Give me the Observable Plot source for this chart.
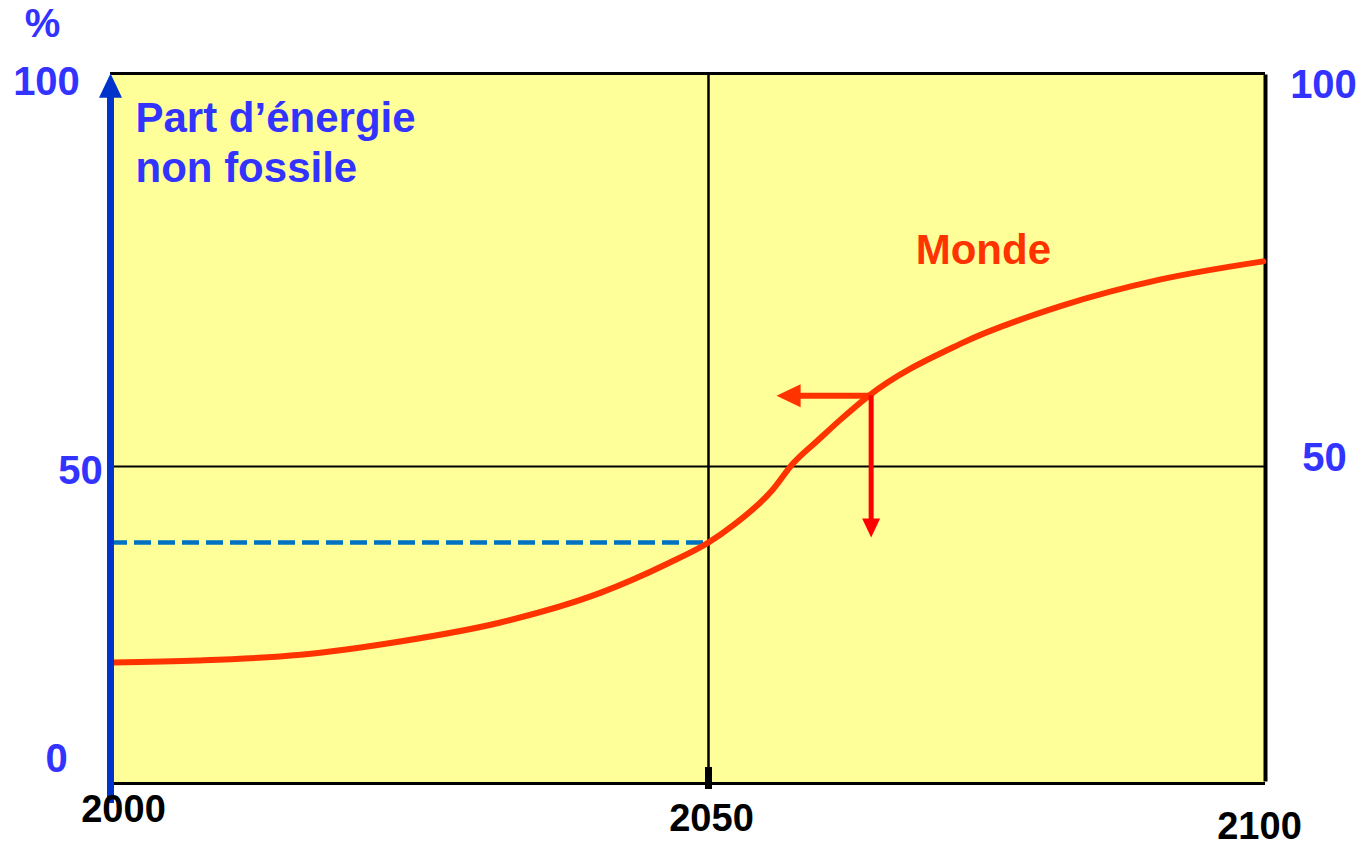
<!DOCTYPE html>
<html>
<head>
<meta charset="utf-8">
<script src="https://cdn.jsdelivr.net/npm/d3@7"></script>
<script src="https://cdn.jsdelivr.net/npm/@observablehq/plot@0.6"></script>
<style>
  html, body { margin: 0; padding: 0; background: white; }
</style>
</head>
<body>
<div id="chart"></div>
<script>
// ---- data ----
const years = [2000.2, 2007.3, 2015.9, 2024.2, 2032.6, 2041.0, 2046.6, 2050, 2052.2, 2055.7, 2057.6, 2059.8, 2061.8, 2064.3, 2072.6, 2081.6, 2090.6, 2099.8];
const share = [19.1, 19.4, 20.3, 22.4, 25.4, 30.1, 34.7, 38.0, 40.7, 46.2, 50.4, 53.3, 55.9, 58.9, 65.6, 70.4, 73.8, 76.1];
const xTicks = [2000, 2050, 2100];
const yTicks = [0, 50, 100];
const refYear = 2050;
const refShare = 38;          // share reached in 2050 (dashed line)
const markYear = 2064.6;
const markShare = 59;
const arrowLeftTo = 2056.1;
const arrowDownTo = 38.8;
const seriesLabel = "Monde";
const labelYear = 2068.6;
const labelShare = 100;
const titleLines = "Part d’énergie\nnon fossile";

const curve = years.map((y, i) => ({year: y, share: share[i]}));

const FONT = "'Liberation Sans', Arial, Helvetica, sans-serif";
const BLUE_TXT = "#3333FF";
const RED = "#FF3300";

// filled arrow head pointing up, tip at origin; r = half width
const head = {
  draw(ctx, size) {
    const r = Math.sqrt(size / Math.PI);
    ctx.moveTo(0, 0);
    ctx.lineTo(r, 2.1 * r);
    ctx.lineTo(-r, 2.1 * r);
    ctx.closePath();
  }
};

function lbl(text, x, y, dx, dy, fill, size) {
  return Plot.text([text], {
    x: () => x, y: () => y, text: d => d, dx, dy,
    fill, fontSize: size, fontWeight: "bold", fontFamily: FONT,
    textAnchor: "middle", lineAnchor: "middle"
  });
}

const chart = Plot.plot({
  width: 1362,
  height: 847,
  marginLeft: 110,
  marginRight: 97,
  marginTop: 73,
  marginBottom: 64,
  style: {fontFamily: FONT, background: "white", overflow: "visible"},
  x: {type: "linear", domain: xTicks, range: [110, 708, 1265], axis: null},
  y: {type: "linear", domain: yTicks, range: [783, 466, 73], axis: null},
  marks: [
    Plot.frame({fill: "#FFFF99", stroke: null}),
    // frame borders
    Plot.ruleY([yTicks[2]], {x1: xTicks[0], x2: xTicks[2], stroke: "black", strokeWidth: 3}),
    Plot.ruleY([yTicks[0]], {x1: xTicks[0], x2: xTicks[2], stroke: "black", strokeWidth: 3}),
    Plot.ruleX([xTicks[2]], {y1: yTicks[0], y2: yTicks[2], stroke: "black", strokeWidth: 4, insetTop: -1.5, insetBottom: -1.5}),
    // grid lines at 50 % and 2050
    Plot.ruleY([yTicks[1]], {x1: xTicks[0], x2: xTicks[2], stroke: "black", strokeWidth: 2}),
    Plot.ruleX([refYear], {y1: yTicks[0], y2: yTicks[2], stroke: "black", strokeWidth: 2.5, insetTop: -13}),
    Plot.ruleX([refYear], {y1: yTicks[0], y2: yTicks[0], stroke: "black", strokeWidth: 7, insetTop: -16, insetBottom: -6}),
    // dashed reference
    Plot.ruleY([refShare], {x1: xTicks[0], x2: refYear, stroke: "#0070C0", strokeWidth: 4.5, strokeDasharray: "17,7"}),
    // curve
    Plot.line(curve, {x: "year", y: "share", stroke: RED, strokeWidth: 6, curve: "monotone-x"}),
    // arrows
    Plot.ruleY([markShare], {x1: arrowLeftTo, x2: markYear, stroke: RED, strokeWidth: 6, insetLeft: 20}),
    Plot.dot([0], {x: () => arrowLeftTo, y: () => markShare, symbol: head, r: 11.5, rotate: -90, fill: RED, stroke: null}),
    Plot.ruleX([markYear], {y1: markShare, y2: arrowDownTo, stroke: "#FF0000", strokeWidth: 5, insetBottom: 15}),
    Plot.dot([0], {x: () => markYear, y: () => arrowDownTo, symbol: head, r: 9, rotate: 180, fill: "#FF0000", stroke: null}),
    // blue vertical axis with arrow
    Plot.ruleX([xTicks[0]], {y1: yTicks[0], y2: yTicks[2], stroke: "#0033CC", strokeWidth: 7, insetTop: 20, insetBottom: -15}),
    Plot.dot([0], {x: () => xTicks[0], y: () => yTicks[2], symbol: head, r: 11.5, fill: "#0033CC", stroke: null}),
    // title inside the frame
    Plot.text([titleLines], {
      x: () => xTicks[0], y: () => yTicks[2], text: d => d, dx: 25, dy: 23,
      textAnchor: "start", lineAnchor: "top", lineHeight: 1.19,
      fill: BLUE_TXT, fontSize: 42, fontWeight: "bold", fontFamily: FONT
    }),
    // series label
    Plot.text([seriesLabel], {
      x: () => labelYear, y: () => labelShare, text: d => d, dy: 177,
      textAnchor: "start", lineAnchor: "middle",
      fill: RED, fontSize: 42, fontWeight: "bold", fontFamily: FONT
    }),
    // left tick labels
    lbl("%", xTicks[0], yTicks[2], -68, -49, BLUE_TXT, 40),
    lbl(String(yTicks[2]), xTicks[0], yTicks[2], -64, 9, BLUE_TXT, 40),
    lbl(String(yTicks[1]), xTicks[0], yTicks[1], -30, 5, BLUE_TXT, 40),
    lbl(String(yTicks[0]), xTicks[0], yTicks[0], -54, -24, BLUE_TXT, 40),
    // right tick labels
    lbl(String(yTicks[2]), xTicks[2], yTicks[2], 58, 12, BLUE_TXT, 40),
    lbl(String(yTicks[1]), xTicks[2], yTicks[1], 59, -8, BLUE_TXT, 40),
    // bottom tick labels
    lbl(String(xTicks[0]), xTicks[0], yTicks[0], 13, 26, "black", 38),
    lbl(String(xTicks[1]), xTicks[1], yTicks[0], 3, 35, "black", 38),
    lbl(String(xTicks[2]), xTicks[2], yTicks[0], -6, 43, "black", 38)
  ]
});
document.getElementById("chart").appendChild(chart);
</script>
</body>
</html>
